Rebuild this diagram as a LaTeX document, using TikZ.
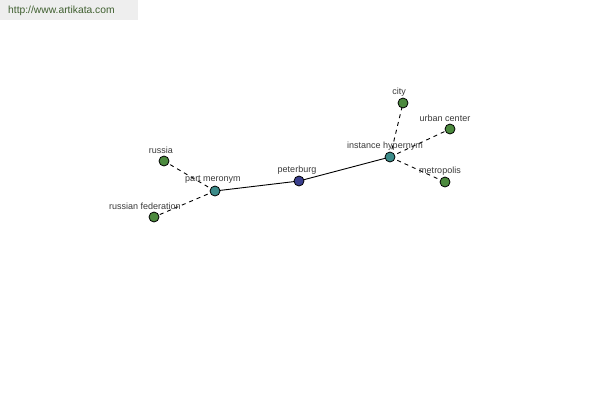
\documentclass[tikz,border=0pt]{standalone}
\usepackage{fontspec}
\setmainfont{Liberation Sans}
\begin{document}
\begin{tikzpicture}[x=1pt,y=-1pt,
  every node/.style={font=\fontsize{9}{10}\selectfont},
  dot/.style={circle,draw=black,line width=0.8pt,minimum size=10pt,inner sep=0pt},
  leaf/.style={dot,fill=leafgreen},
  rel/.style={dot,fill=relteal},
  root/.style={dot,fill=rootblue},
  lbl/.style={text=labelgray,inner sep=0pt},
  solidedge/.style={draw=black,line width=0.9pt},
  dashedge/.style={draw=black,line width=0.9pt,dash pattern=on 4pt off 4pt}]
\definecolor{leafgreen}{HTML}{4C8A3E}
\definecolor{relteal}{HTML}{3C8C8A}
\definecolor{rootblue}{HTML}{3A3F8E}
\definecolor{labelgray}{HTML}{3A3A3A}
\definecolor{hdrgray}{HTML}{EEEEEE}
\definecolor{hdrtext}{HTML}{3F5F2F}
\useasboundingbox[fill=white] (0,0) rectangle (600,400);
\fill[hdrgray] (0,0) rectangle (138,20);
\node[anchor=west,text=hdrtext,inner sep=0pt,font=\fontsize{10.3}{11}\selectfont] (hdr) at (8,11) {http://www.artikata.com};
% nodes
\coordinate (pb) at (299,181);
\coordinate (pm) at (215,191);
\coordinate (ih) at (390,157);
\coordinate (ru) at (164,161);
\coordinate (rf) at (154,217);
\coordinate (ci) at (403,103);
\coordinate (uc) at (450,129);
\coordinate (me) at (445,182);
% edges
\draw[solidedge] (pm) -- (pb);
\draw[solidedge] (pb) -- (ih);
\draw[dashedge] (pm) -- (ru);
\draw[dashedge] (pm) -- (rf);
\draw[dashedge] (ih) -- (ci);
\draw[dashedge] (ih) -- (uc);
\draw[dashedge] (ih) -- (me);
% labels
\node[lbl] (lru) at (161,150) {russia};
\node[lbl] (lrf) at (145,206) {russian federation};
\node[lbl] (lpm) at (213,180) {part meronym};
\node[lbl] (lpb) at (297,170) {peterburg};
\node[lbl] (lih) at (385,146) {instance hypernym};
\node[lbl] (lci) at (399,92) {city};
\node[lbl] (luc) at (445,118) {urban center};
\node[lbl] (lme) at (440,171) {metropolis};
% dots
\node[root] (npb) at (pb) {};
\node[rel] (npm) at (pm) {};
\node[rel] (nih) at (ih) {};
\node[leaf] (nru) at (ru) {};
\node[leaf] (nrf) at (rf) {};
\node[leaf] (nci) at (ci) {};
\node[leaf] (nuc) at (uc) {};
\node[leaf] (nme) at (me) {};
\end{tikzpicture}
\end{document}
